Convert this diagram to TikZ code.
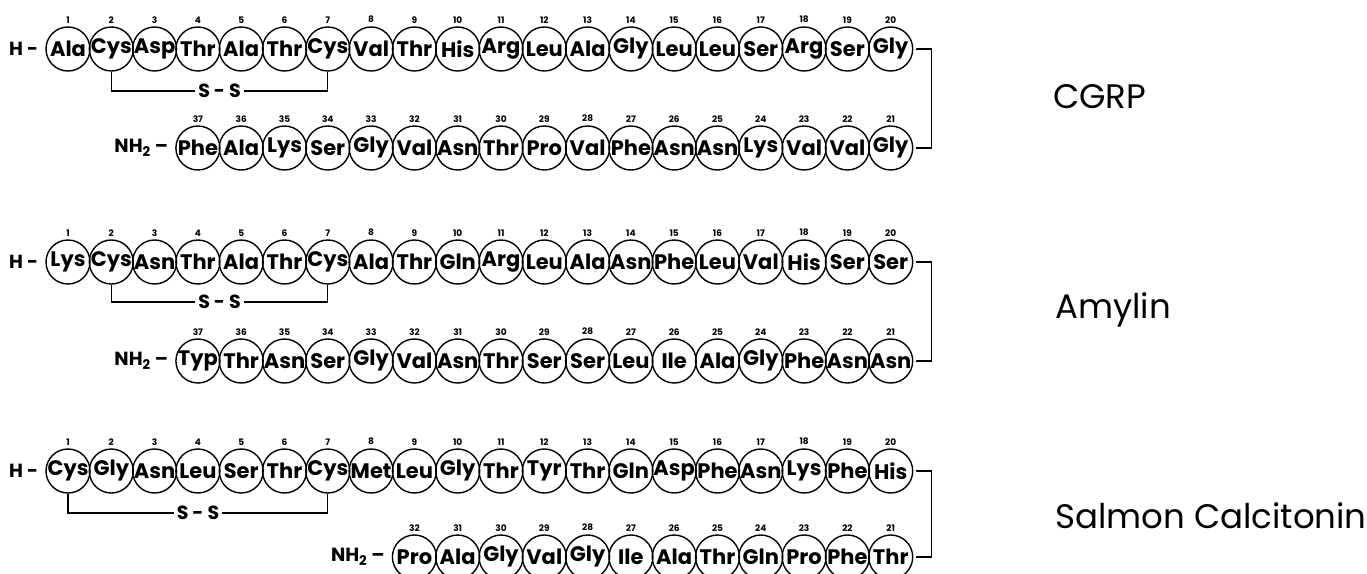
\documentclass[tikz,border=0pt]{standalone}
\usepackage{fontspec}
\setmainfont{Poppins}
\tikzset{
  res/.style={circle, draw, line width=1.4pt, minimum size=44pt, inner sep=0pt,
    font=\fontsize{21}{21}\selectfont\bfseries},
  num/.style={font=\fontsize{9}{9}\selectfont\bfseries, inner sep=0pt, label distance=3pt},
  term/.style={anchor=east, inner sep=0pt, font=\fontsize{19}{19}\selectfont\bfseries},
  ssbox/.style={inner sep=3pt, font=\fontsize{19}{19}\selectfont\bfseries},
  link/.style={line width=1.1pt},
  title/.style={anchor=west, inner sep=0pt, font=\fontsize{34}{34}\selectfont}
}
\newcommand\toprow[3]{%
  \foreach \nm [count=\k] in {#3}{%
    \node[res, label={[num]above:\k}] (#1-\k) at ({68+(\k-1)*43.3},#2) {\makebox[0pt]{\nm}};
  }}
\newcommand\botrow[3]{%
  \foreach \nm [count=\k] in {#3}{%
    \pgfmathtruncatemacro\rn{20+\k}%
    \node[res, label={[num]above:\rn}] (#1-\rn) at ({68+(20-\k)*43.3},#2) {\makebox[0pt]{\nm}};
  }}
\begin{document}
\begin{tikzpicture}[x=1pt, y=-1pt]
\useasboundingbox (0,0) rectangle (1367,573);

% ---------- CGRP ----------
\toprow{a}{49}{Ala,Cys,Asp,Thr,Ala,Thr,Cys,Val,Thr,His,Arg,Leu,Ala,Gly,Leu,Leu,Ser,Arg,Ser,Gly}
\botrow{a}{148}{Gly,Val,Val,Lys,Asn,Asn,Phe,Val,Pro,Thr,Asn,Val,Gly,Ser,Lys,Ala,Phe}
\node[term] (a-h) at ([xshift=-7pt]a-1.west) {H -};
\node[term] (a-nh) at ([xshift=-7pt]a-37.west) {NH\textsubscript{2} –};
\node[ssbox] (a-ss) at (219.5,91) {S - S};
\draw[link] (a-2.south) |- (a-ss.west);
\draw[link] (a-7.south) |- (a-ss.east);
\draw[link] ([xshift=3pt]a-20.east) -- ++(15pt,0) |- ([xshift=3pt]a-21.east);
\node[title] (a-t) at (1053,97) {CGRP};

% ---------- Amylin ----------
\toprow{b}{262}{Lys,Cys,Asn,Thr,Ala,Thr,Cys,Ala,Thr,Gln,Arg,Leu,Ala,Asn,Phe,Leu,Val,His,Ser,Ser}
\botrow{b}{361}{Asn,Asn,Phe,Gly,Ala,Ile,Leu,Ser,Ser,Thr,Asn,Val,Gly,Ser,Asn,Thr,Typ}
\node[term] (b-h) at ([xshift=-7pt]b-1.west) {H -};
\node[term] (b-nh) at ([xshift=-7pt]b-37.west) {NH\textsubscript{2} –};
\node[ssbox] (b-ss) at (219.5,302) {S - S};
\draw[link] (b-2.south) |- (b-ss.west);
\draw[link] (b-7.south) |- (b-ss.east);
\draw[link] ([xshift=3pt]b-20.east) -- ++(15pt,0) |- ([xshift=3pt]b-21.east);
\node[title] (b-t) at (1055,310) {Amylin};

% ---------- Salmon Calcitonin ----------
\toprow{c}{471}{Cys,Gly,Asn,Leu,Ser,Thr,Cys,Met,Leu,Gly,Thr,Tyr,Thr,Gln,Asp,Phe,Asn,Lys,Phe,His}
\botrow{c}{557}{Thr,Phe,Pro,Gln,Thr,Ala,Ile,Gly,Val,Gly,Ala,Pro}
\node[term] (c-h) at ([xshift=-7pt]c-1.west) {H -};
\node[term] (c-nh) at ([xshift=-7pt]c-32.west) {NH\textsubscript{2} –};
\node[ssbox] (c-ss) at (198,513) {S - S};
\draw[link] (c-1.south) |- (c-ss.west);
\draw[link] (c-7.south) |- (c-ss.east);
\draw[link] ([xshift=3pt]c-20.east) -- ++(15pt,0) |- ([xshift=3pt]c-21.east);
\node[title] (c-t) at (1055,516) {Salmon Calcitonin};
\end{tikzpicture}
\end{document}
